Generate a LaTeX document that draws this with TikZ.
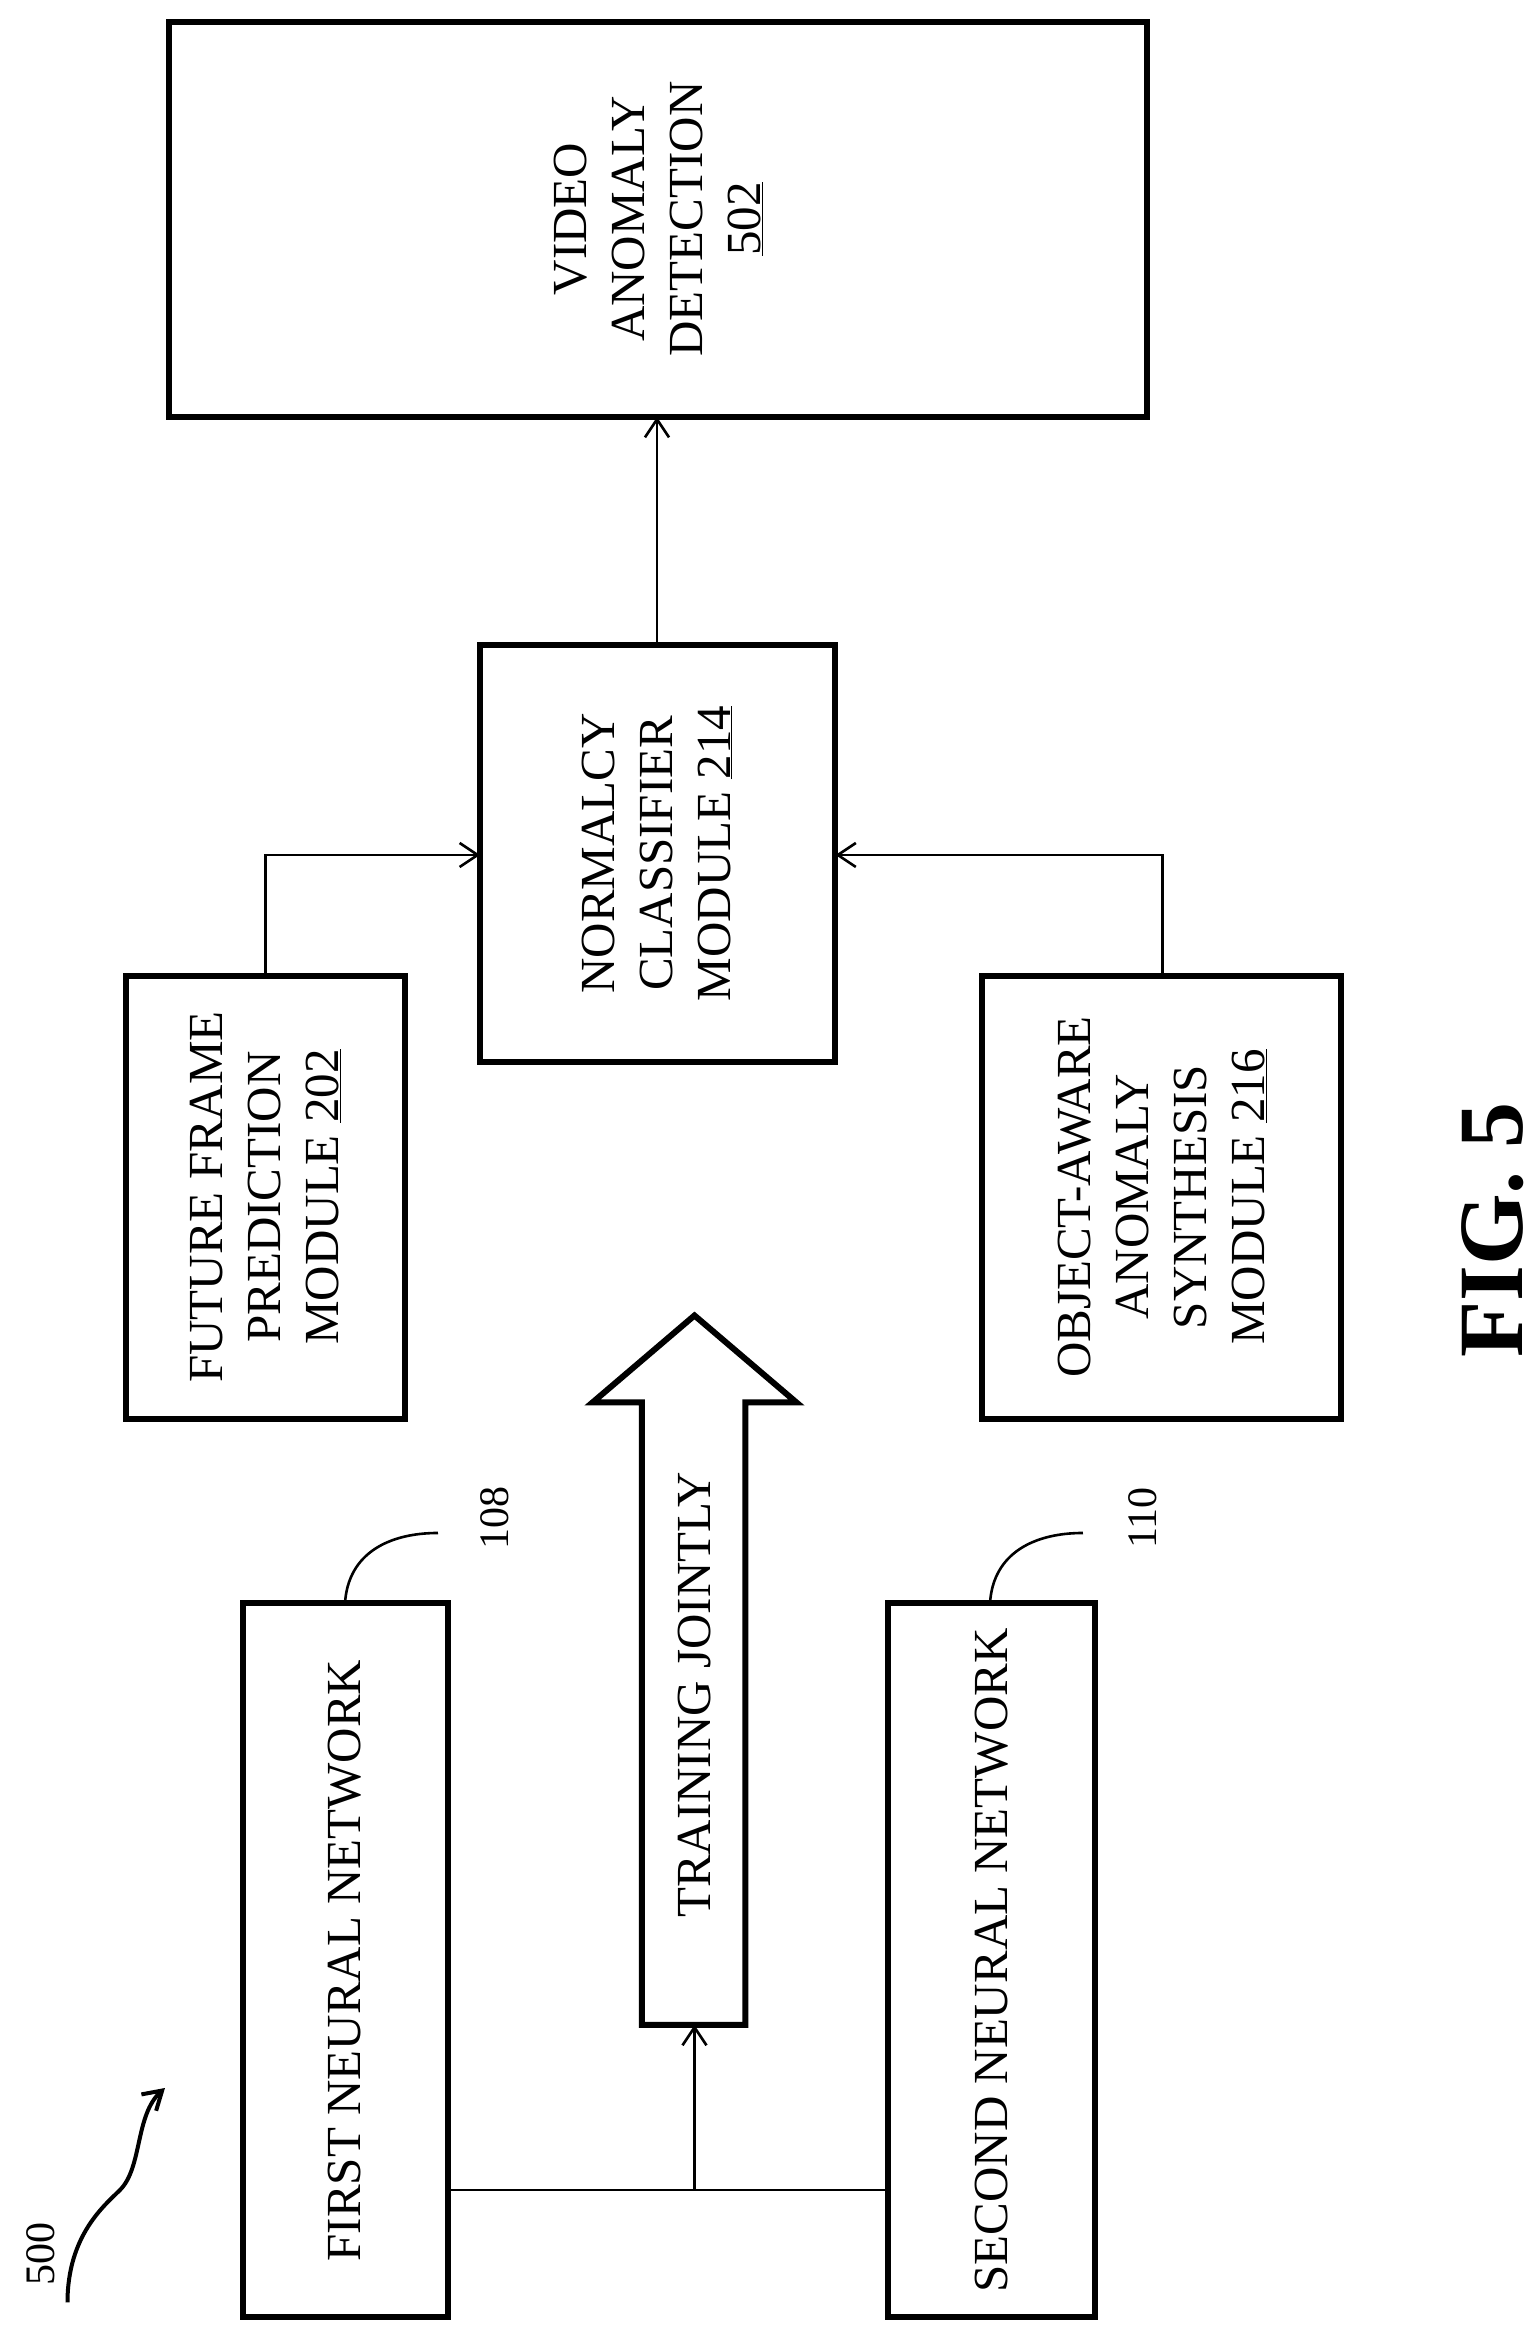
\documentclass[tikz,border=0pt]{standalone}
\usepackage{fontspec}
\setmainfont{Liberation Serif}
\usetikzlibrary{arrows.meta,shapes.arrows,decorations.pathmorphing}
\begin{document}
\begin{tikzpicture}[x=1.5pt,y=-1.5pt,
  box/.style={draw,line width=6pt},
  txt/.style={rotate=90,align=center,font=\fontsize{49}{58}\selectfont},
  con/.style={line width=2.6pt},
  arr/.style={con,-{Straight Barb[length=18pt,width=24pt]}}]
\useasboundingbox (0,0) rectangle (1025.3,1560.7);
\draw[box] (113,15) rectangle (765,278);
\node[txt] (vad) at (439,146) {VIDEO\\ANOMALY\\DETECTION\\\underline{502}};
\draw[box] (320,430) rectangle (557,708);
\node[txt] (nc) at (438,569) {NORMALCY\\CLASSIFIER\\MODULE \underline{214}};
\draw[box] (84,651) rectangle (270,946);
\node[txt] (ff) at (177,798) {FUTURE FRAME\\PREDICTION\\MODULE \underline{202}};
\draw[box] (655,651) rectangle (894,946);
\node[txt] (oa) at (775,798) {OBJECT-AWARE\\ANOMALY\\SYNTHESIS\\MODULE \underline{216}};
\draw[box] (162,1069) rectangle (299,1545);
\node[txt] (f1) at (230,1307) {FIRST NEURAL NETWORK};
\draw[box] (592,1069) rectangle (730,1545);
\node[txt] (s1) at (661,1307) {SECOND NEURAL NETWORK};
% training jointly arrow
\draw[line width=6pt,line join=miter] (428,1350) -- (428,935) -- (395,935) -- (463,877) -- (531,935) -- (497,935) -- (497,1350) -- cycle;
\node[txt] (tj) at (463,1130) {TRAINING JOINTLY};
\coordinate (ab) at (463,1350);
\coordinate (j) at (463,1460);
\draw[con] (299,1460) -- (592,1460);
\draw[arr] (j) -- (ab);
\draw[arr] (177,651) -- (177,570) -- (320,570);
\draw[arr] (775,651) -- (775,570) -- (557,570);
\draw[arr] (438,430) -- (438,278);
% reference labels
\node[rotate=90,font=\fontsize{42}{48}\selectfont] (l108) at (330,1012) {108};
\node[rotate=90,font=\fontsize{42}{48}\selectfont] (l110) at (762,1012) {110};
\draw[con] (230,1069) .. controls (232,1035) and (260,1022) .. (292,1022);
\draw[con] (660,1069) .. controls (662,1035) and (690,1022) .. (722,1022);
\node[rotate=90,font=\fontsize{42}{48}\selectfont] (l500) at (27,1503) {500};
\draw[line width=4pt,-{Straight Barb[length=18pt,width=22pt]}] (45,1535) .. controls (45,1490) and (70,1470) .. (80,1460) .. controls (95,1445) and (90,1410) .. (110,1392);
\node[rotate=90,font=\bfseries\fontsize{92}{100}\selectfont] (fig) at (995,820) {FIG. 5};
\end{tikzpicture}
\end{document}
